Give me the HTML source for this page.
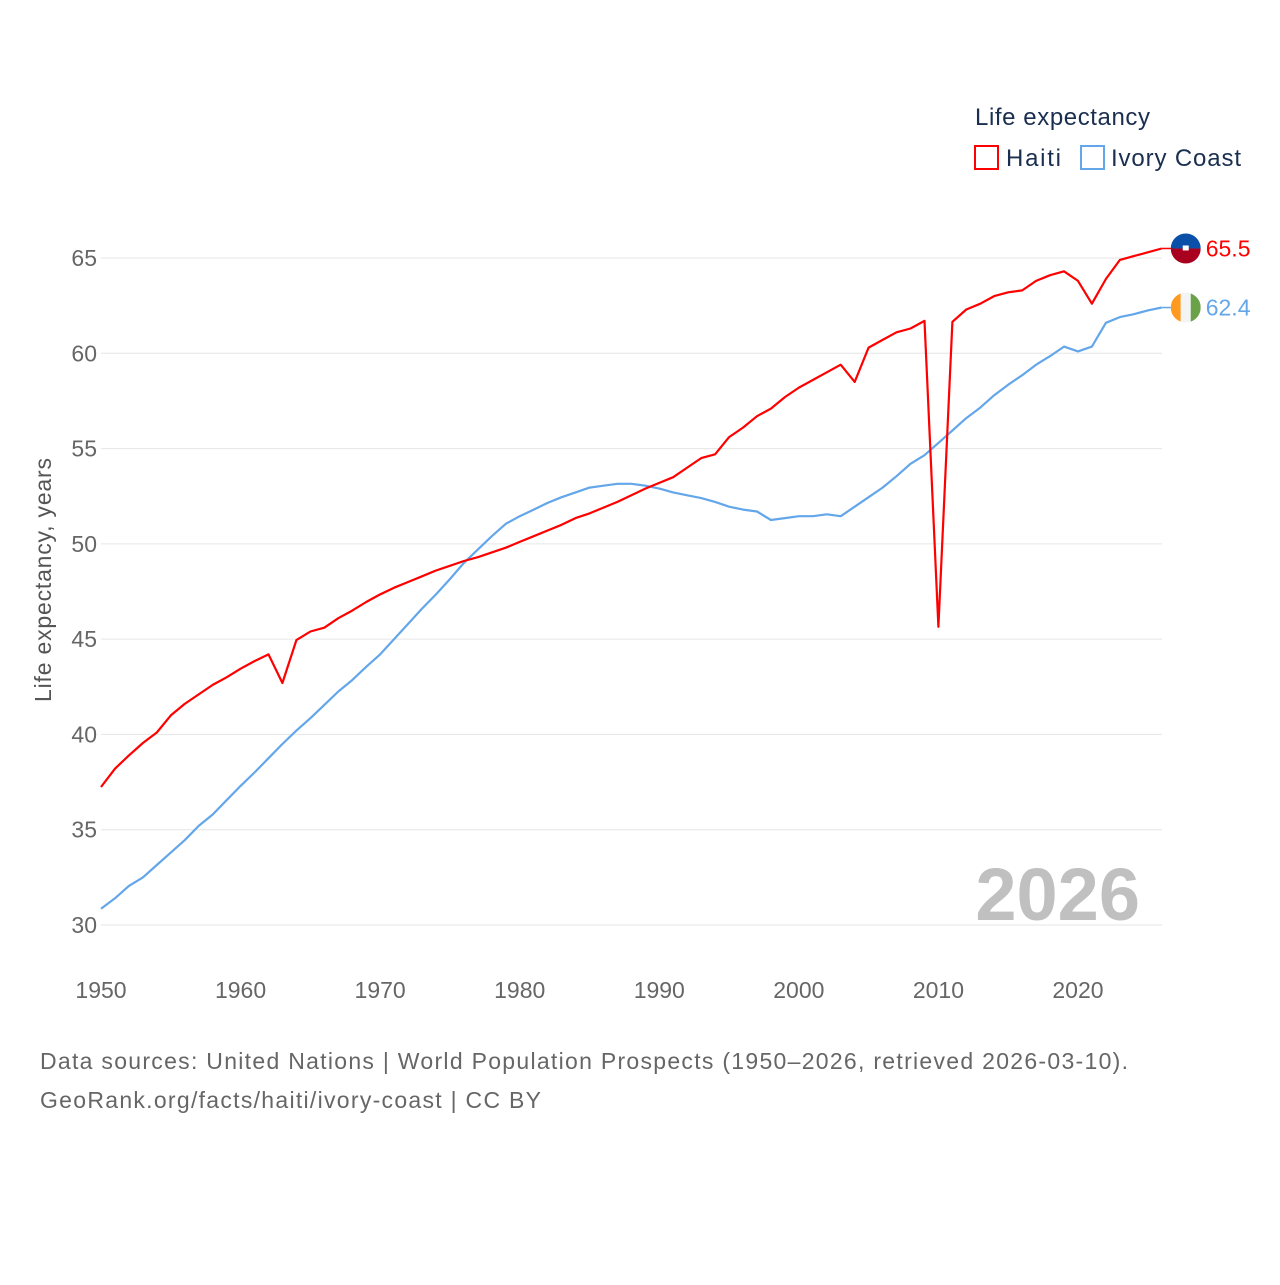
<!DOCTYPE html>
<html><head><meta charset="utf-8"><style>
body{margin:0;background:#fff;width:1280px;height:1280px;overflow:hidden;font-family:"Liberation Sans",sans-serif}
svg text{font-family:"Liberation Sans",sans-serif}
</style></head><body>
<svg id="chart" width="1280" height="1280">
<g id="grid"></g>
<g id="yticks"></g>
<g id="xticks"></g>
<text x="1140" y="920" text-anchor="end" font-size="74" font-weight="bold" fill="#c0c0c0">2026</text>
<g id="lines"></g>
<text transform="translate(51,580) rotate(-90)" text-anchor="middle" font-size="23" fill="#555" textLength="244">Life expectancy, years</text>
<text x="975" y="125" font-size="24" fill="#1a2e4f" textLength="175">Life expectancy</text>
<g><rect x="975" y="146" width="23" height="23" fill="none" stroke="#ff0000" stroke-width="2"/><text x="1006" y="166" font-size="24" fill="#1a2e4f" textLength="55">Haiti</text></g>
<g><rect x="1081" y="146" width="23" height="23" fill="none" stroke="#63a6ea" stroke-width="2"/><text x="1111" y="166" font-size="24" fill="#1a2e4f" textLength="130">Ivory Coast</text></g>
<text x="40" y="1069" font-size="23" fill="#666" textLength="1088">Data sources: United Nations | World Population Prospects (1950–2026, retrieved 2026-03-10).</text>
<text x="40" y="1108" font-size="23" fill="#666" textLength="501">GeoRank.org/facts/haiti/ivory-coast | CC BY</text>
<g id="ends"></g>
</svg>
<script>
const years=[];for(let y=1950;y<=2026;y++)years.push(y);
const haiti=[37.24,38.2,38.9,39.55,40.1,41.0,41.6,42.1,42.6,43.0,43.45,43.85,44.2,42.7,44.95,45.4,45.6,46.1,46.5,46.95,47.35,47.7,48.0,48.3,48.6,48.85,49.1,49.3,49.55,49.8,50.1,50.4,50.7,51.0,51.35,51.6,51.9,52.2,52.55,52.9,53.2,53.5,54.0,54.5,54.7,55.6,56.1,56.7,57.1,57.7,58.2,58.6,59.0,59.4,58.5,60.3,60.7,61.1,61.3,61.7,45.65,61.65,62.3,62.6,63.0,63.2,63.3,63.8,64.1,64.3,63.8,62.6,63.9,64.9,65.1,65.3,65.5];
const ivory=[30.85,31.4,32.05,32.5,33.15,33.8,34.45,35.2,35.8,36.55,37.3,38.0,38.75,39.5,40.2,40.85,41.55,42.25,42.85,43.55,44.2,45.0,45.8,46.6,47.35,48.15,49.0,49.7,50.4,51.05,51.45,51.8,52.15,52.45,52.7,52.95,53.05,53.15,53.15,53.05,52.9,52.7,52.55,52.4,52.2,51.95,51.8,51.7,51.25,51.35,51.45,51.45,51.55,51.45,51.95,52.45,52.95,53.55,54.2,54.65,55.3,55.95,56.6,57.15,57.8,58.35,58.85,59.4,59.85,60.35,60.1,60.35,61.6,61.9,62.05,62.25,62.4];
const yTicks=[30,35,40,45,50,55,60,65];
const xTicks=[1950,1960,1970,1980,1990,2000,2010,2020];
const NS="http://www.w3.org/2000/svg";
const X=y=>101+(y-1950)*13.957;
const Y=v=>258+(65-v)*19.057;
function mk(t,a,p){const e=document.createElementNS(NS,t);for(const k in a)e.setAttribute(k,a[k]);p.appendChild(e);return e;}
const grid=document.getElementById('grid'),yt=document.getElementById('yticks'),xt=document.getElementById('xticks');
yTicks.forEach(v=>{
 const l=mk('line',{x1:101,x2:1162,y1:Y(v),y2:Y(v),stroke:'#e6e6e6','stroke-width':1},grid);
 
 
 const t=mk('text',{x:97,y:Y(v)+8,'text-anchor':'end','font-size':23,fill:'#666'},yt);t.textContent=v;
 
 
});
xTicks.forEach(v=>{
 const t=mk('text',{x:X(v),y:998,'text-anchor':'middle','font-size':23,fill:'#666'},xt);t.textContent=v;
 
 
});
const lines=document.getElementById('lines');
function series(vals,col,name){
 const p=mk('polyline',{points:vals.map((v,i)=>X(years[i]).toFixed(1)+','+Y(v).toFixed(1)).join(' '),fill:'none',stroke:col,'stroke-width':2.2,'stroke-linejoin':'round'},lines);
 
 
}
series(ivory,'#63a6ea','ivory-coast-line');
series(haiti,'#ff0000','haiti-line');
const ends=document.getElementById('ends');
function endLabel(vals,col,name,flag){
 const v=vals[vals.length-1],x=X(years[years.length-1]),y=Y(v);
 mk('line',{x1:x,x2:x+12,y1:y,y2:y,stroke:col,'stroke-width':1.5},ends);
 const g=mk('g',{},ends);
 
 
 const cx=x+24,r=15;
 const cp=mk('clipPath',{id:'c'+name},g);mk('circle',{cx:cx,cy:y,r:r},cp);
 const inner=mk('g',{'clip-path':'url(#c'+name+')'},g);
 if(flag==='ht'){mk('rect',{x:cx-r,y:y-r,width:2*r,height:r,fill:'#0a4fa8'},inner);mk('rect',{x:cx-r,y:y,width:2*r,height:r,fill:'#a8001e'},inner);mk('rect',{x:cx-3,y:y-3,width:6,height:5,fill:'#fff'},inner);}
 else{mk('rect',{x:cx-r,y:y-r,width:10,height:2*r,fill:'#ff9a1f'},inner);mk('rect',{x:cx-5,y:y-r,width:10,height:2*r,fill:'#f4f4f4'},inner);mk('rect',{x:cx+5,y:y-r,width:10,height:2*r,fill:'#6aa24a'},inner);}
 const t=mk('text',{x:x+44,y:y+8,'font-size':23,fill:col},ends);t.textContent=v.toFixed(1);
 
 
}
endLabel(haiti,'#ff0000','haiti','ht');
endLabel(ivory,'#63a6ea','ivory-coast','ci');
</script>
</body></html>
